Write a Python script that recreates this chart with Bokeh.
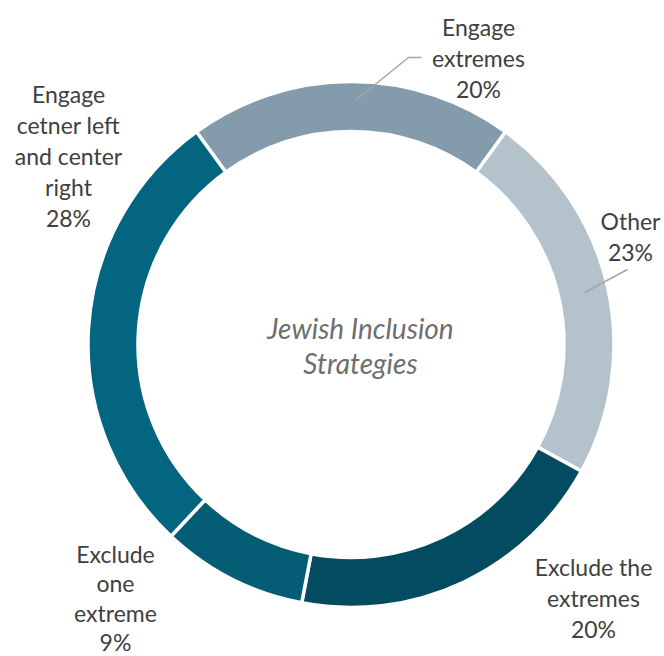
import math
from bokeh.plotting import figure
from bokeh.models import ColumnDataSource
from bokeh.core.properties import value
from bokeh.embed import file_html
from bokeh.resources import INLINE

# ---- data ----
categories = ["Engage extremes", "Other", "Exclude the extremes",
              "Exclude one extreme", "Engage cetner left and center right"]
shares = [20, 23, 20, 9, 28]
colors = ["#849bac", "#b4c2cb", "#024b60", "#045c75", "#03657f"]
label_lines = [
    ["Engage", "extremes", "20%"],
    ["Other", "23%"],
    ["Exclude the", "extremes", "20%"],
    ["Exclude", "one", "extreme", "9%"],
    ["Engage", "cetner left", "and center", "right", "28%"],
]
center_title = ["Jewish Inclusion", "Strategies"]

# ---- layout ----
W, H = 664, 656
cx, cy = 350.5, H - 344
r_out, r_in = 263, 213
offset = math.pi / 2 + 0.2 * math.pi  # first slice centred at top

total = sum(shares)
starts, ends = [], []
cum = 0
for s in shares:
    a0 = offset - 2 * math.pi * (cum + s) / total
    a1 = offset - 2 * math.pi * cum / total
    starts.append(a0)
    ends.append(a1)
    cum += s

src = ColumnDataSource(dict(x=[cx] * len(shares), y=[cy] * len(shares),
                            start=starts, end=ends, color=colors, cat=categories))

p = figure(width=W, height=H, x_range=(0, W), y_range=(0, H), min_border=0,
           toolbar_location=None, output_backend="svg")
p.axis.visible = False
p.grid.visible = False
p.outline_line_color = None
p.background_fill_color = "white"

p.annular_wedge(x="x", y="y", inner_radius=r_in, outer_radius=r_out,
                start_angle="start", end_angle="end", direction="anticlock",
                fill_color="color", line_color="white", line_width=3.5, source=src)

# label anchor positions (pixel coords of first line centre) and line spacing
anchors = [(478, 26), (630, 220), (593, 566), (115, 553), (68, 93)]
spacings = [31, 31, 31, 29.5, 31]
tx, ty, tt = [], [], []
for (ax, ay), lh, lines in zip(anchors, spacings, label_lines):
    for i, line in enumerate(lines):
        tx.append(ax)
        ty.append(H - (ay + i * lh))
        tt.append(line)
p.text(x=tx, y=ty, text=tt, text_align="center", text_baseline="middle",
       text_font=value("Lato"), text_font_size="23px", text_color="#404040")

# centre title
p.text(x=[360, 360], y=[H - 327, H - 362], text=center_title,
       text_align="center", text_baseline="middle", text_font=value("Lato"),
       text_font_size="28px", text_font_style="italic", text_color="#6e6e6e")

# leader lines
p.line(x=[421, 408, 355], y=[H - 57, H - 57, H - 100], line_color="#a6a6a6", line_width=1.5)
p.line(x=[627, 584], y=[H - 269, H - 292], line_color="#a6a6a6", line_width=1.5)

open("out.html", "w").write(file_html(p, INLINE))
